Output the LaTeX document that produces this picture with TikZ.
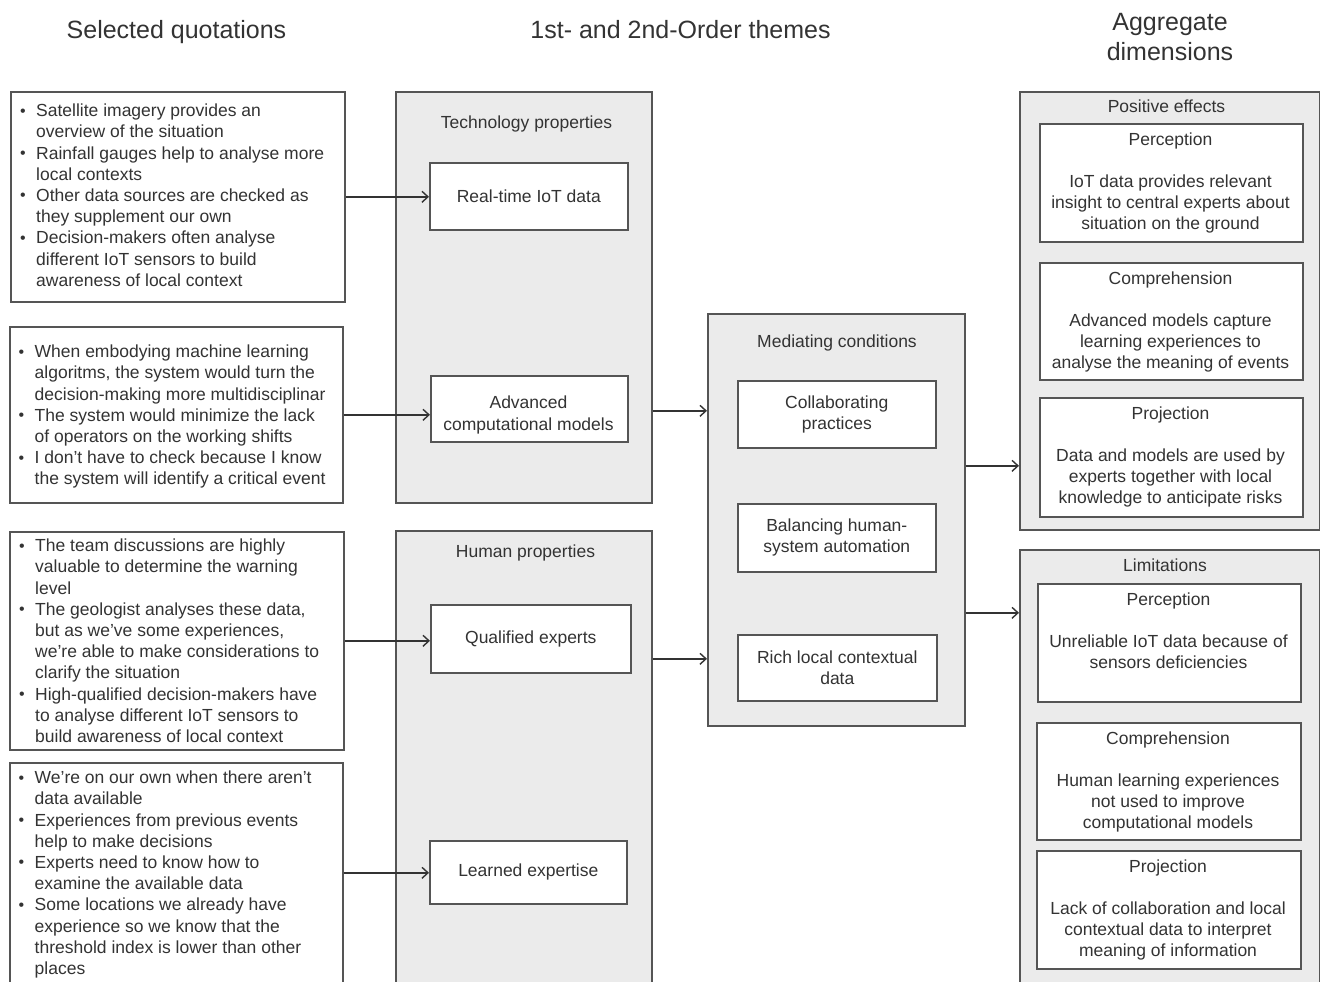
\documentclass[tikz,border=0pt]{standalone}
\usepackage{fontspec}
\setmainfont{Liberation Sans}
\usetikzlibrary{arrows.meta,calc}
\definecolor{txt}{HTML}{333333}
\definecolor{edgegray}{HTML}{555555}
\definecolor{panelgray}{HTML}{EBEBEB}
\newcommand\qb{\makebox[16pt][l]{\raisebox{0.6pt}{\fontsize{16}{16}\selectfont •}}}
\newcommand\qc{\hspace*{16pt}}
\begin{document}
\begin{tikzpicture}[x=1pt,y=-1pt,
  every node/.style={text=txt, font=\fontsize{17.5}{21.2}\selectfont, inner sep=0pt},
  qbox/.style={draw=edgegray, line width=1.6pt, anchor=north west, fill=white},
  pbox/.style={draw=edgegray, line width=1.6pt, fill=panelgray, anchor=north west},
  ibox/.style={draw=edgegray, line width=1.6pt, fill=white, anchor=north west, align=center},
  qtext/.style={anchor=north west, align=left},
  btext/.style={anchor=north, align=center},
  ptitle/.style={anchor=base},
  hdr/.style={font=\fontsize{25}{30}\selectfont, align=center},
  arr/.style={draw=txt, line width=1.4pt, -{Straight Barb[length=6pt,width=11pt]}}
]
\useasboundingbox (0,0) rectangle (1320,982);
\clip (0,0) rectangle (1320,982);
\fill[white] (0,0) rectangle (1320,982);

% headers
\node[hdr, anchor=base] (h1) at (176.5,39) {Selected quotations};
\node[hdr, anchor=base] (h2) at (680.5,39) {1st- and 2nd-Order themes};
\node[hdr, anchor=north] (h3) at (1170,13.1) {Aggregate\\dimensions};

% quotation boxes
\node[qbox, minimum width=334, minimum height=210] (q1) at (10,91) {};
\node[qtext] (q1t) at (20,103.8) {\qb Satellite imagery provides an\\
\qc overview of the situation\\
\qb Rainfall gauges help to analyse more\\
\qc local contexts\\
\qb Other data sources are checked as\\
\qc they supplement our own\\
\qb Decision-makers often analyse\\
\qc different IoT sensors to build\\
\qc awareness of local context};

\node[qbox, minimum width=333, minimum height=176] (q2) at (9,326) {};
\node[qtext] (q2t) at (18.5,344.8) {\qb When embodying machine learning\\
\qc algoritms, the system would turn the\\
\qc decision-making more multidisciplinar\\
\qb The system would minimize the lack\\
\qc of operators on the working shifts\\
\qb I don’t have to check because I know\\
\qc the system will identify a critical event};

\node[qbox, minimum width=334, minimum height=218] (q3) at (9,531) {};
\node[qtext] (q3t) at (19,538.8) {\qb The team discussions are highly\\
\qc valuable to determine the warning\\
\qc level\\
\qb The geologist analyses these data,\\
\qc but as we’ve some experiences,\\
\qc we’re able to make considerations to\\
\qc clarify the situation\\
\qb High-qualified decision-makers have\\
\qc to analyse different IoT sensors to\\
\qc build awareness of local context};

\node[qbox, minimum width=333, minimum height=250] (q4) at (9,762) {};
\node[qtext] (q4t) at (18.5,770.8) {\qb We’re on our own when there aren’t\\
\qc data available\\
\qb Experiences from previous events\\
\qc help to make decisions\\
\qb Experts need to know how to\\
\qc examine the available data\\
\qb Some locations we already have\\
\qc experience so we know that the\\
\qc threshold index is lower than other\\
\qc places};

% theme panels
\node[pbox, minimum width=256, minimum height=411] (tech) at (395,91) {};
\node[ptitle] (techt) at (526.5,128.3) {Technology properties};
\node[ibox, minimum width=198, minimum height=67] (rt) at (429,162) {Real-time IoT data};
\node[ibox, minimum width=197, minimum height=66] (adv) at (430,375) {};
\node[align=center] (advt) at (528.5,415) {Advanced\\computational models};

\node[pbox, minimum width=256, minimum height=480] (hum) at (395,530) {};
\node[ptitle] (humt) at (525.5,557.3) {Human properties};
\node[ibox, minimum width=200, minimum height=68] (qe) at (430,604) {Qualified experts};
\node[ibox, minimum width=197, minimum height=63] (le) at (429,840) {Learned expertise};

\node[pbox, minimum width=257, minimum height=412] (med) at (707,313) {};
\node[ptitle] (medt) at (837,347.3) {Mediating conditions};
\node[ibox, minimum width=198, minimum height=67] (cp) at (737,380) {Collaborating\\practices};
\node[ibox, minimum width=198, minimum height=68] (bh) at (737,503) {Balancing human-\\system automation};
\node[ibox, minimum width=199, minimum height=66] (rl) at (737,634) {Rich local contextual\\data};

% aggregate dimensions
\node[pbox, minimum width=300, minimum height=438] (pos) at (1019,91) {};
\node[ptitle] (post) at (1166.5,112.3) {Positive effects};
\node[ibox, minimum width=263, minimum height=118] (pp) at (1039,123) {};
\node[btext] (ppt) at (1170.5,132.3) {Perception\\[21.2pt]IoT data provides relevant\\insight to central experts about\\situation on the ground};
\node[ibox, minimum width=263, minimum height=117] (pc) at (1039,262) {};
\node[btext] (pct) at (1170.5,271.3) {Comprehension\\[21.2pt]Advanced models capture\\learning experiences to\\analyse the meaning of events};
\node[ibox, minimum width=263, minimum height=119] (pj) at (1039,397) {};
\node[btext] (pjt) at (1170.5,406.3) {Projection\\[21.2pt]Data and models are used by\\experts together with local\\knowledge to anticipate risks};

\node[pbox, minimum width=300, minimum height=460] (lim) at (1019,549) {};
\node[ptitle] (limt) at (1165,571.3) {Limitations};
\node[ibox, minimum width=263, minimum height=118] (lp) at (1037,583) {};
\node[btext] (lpt) at (1168.5,592.3) {Perception\\[21.2pt]Unreliable IoT data because of\\sensors deficiencies};
\node[ibox, minimum width=264, minimum height=117] (lc) at (1036,722) {};
\node[btext] (lct) at (1168,731.3) {Comprehension\\[21.2pt]Human learning experiences\\not used to improve\\computational models};
\node[ibox, minimum width=264, minimum height=118] (lj) at (1036,850) {};
\node[btext] (ljt) at (1168,859.3) {Projection\\[21.2pt]Lack of collaboration and local\\contextual data to interpret\\meaning of information};

% connectors
\draw[arr] (q1.east) -- (q1.east -| rt.west);
\draw[arr] (q2.east) -- (q2.east -| adv.west);
\draw[arr] (q3.east) -- (q3.east -| qe.west);
\draw[arr] ($(le.west -| q4.east)+(0,0.5)$) -- ($(le.west)+(0,0.5)$);
\draw[arr] ($(adv.east -| tech.east)+(0,2)$) -- ($(adv.east -| med.west)+(0,2)$);
\draw[arr] ($(qe.east -| hum.east)+(0,20)$) -- ($(qe.east -| med.west)+(0,20)$);
\draw[arr] ($(med.east)+(0,-54)$) -- ($(med.east -| pos.west)+(0,-54)$);
\draw[arr] ($(med.east)+(0,93)$) -- ($(med.east -| lim.west)+(0,93)$);
\end{tikzpicture}
\end{document}
